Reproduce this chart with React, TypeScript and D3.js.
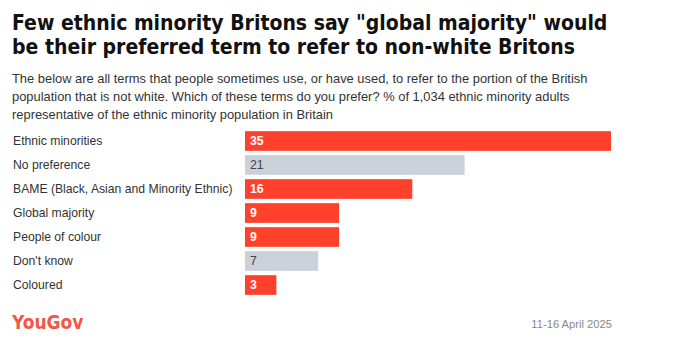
import React, { useEffect, useRef } from 'react';
import * as d3 from 'd3';

const categories = [
  'Ethnic minorities',
  'No preference',
  'BAME (Black, Asian and Minority Ethnic)',
  'Global majority',
  'People of colour',
  "Don't know",
  'Coloured',
];
const values = [35, 21, 16, 9, 9, 7, 3];
const neutral = [false, true, false, false, false, true, false];

const titleLines = [
  'Few ethnic minority Britons say "global majority" would',
  'be their preferred term to refer to non-white Britons',
];
const subtitleLines = [
  'The below are all terms that people sometimes use, or have used, to refer to the portion of the British',
  'population that is not white. Which of these terms do you prefer? % of 1,034 ethnic minority adults',
  'representative of the ethnic minority population in Britain',
];

const RED = '#ff412c';
const GREY = '#cbd0d9';
const FONT = '"Liberation Sans", Arial, sans-serif';
const NARROW = '"DejaVu Sans Condensed", "DejaVu Sans", sans-serif';

export default function App() {
  const svgRef = useRef<SVGSVGElement>(null);

  useEffect(() => {
    const width = 680;
    const height = 354;
    const svg = d3.select(svgRef.current);
    svg.selectAll('*').remove();
    svg.attr('width', width).attr('height', height);

    svg.append('rect').attr('width', width).attr('height', height).attr('fill', '#fff');

    // title
    svg.append('g')
      .selectAll('text')
      .data(titleLines)
      .enter()
      .append('text')
      .attr('x', 12)
      .attr('y', (d, i) => 30 + i * 24)
      .attr('font-family', NARROW)
      .attr('font-weight', 'bold')
      .attr('font-size', 21)
      .attr('fill', '#111')
      .text(d => d);

    // subtitle
    svg.append('g')
      .selectAll('text')
      .data(subtitleLines)
      .enter()
      .append('text')
      .attr('x', 12)
      .attr('y', (d, i) => 83 + i * 18)
      .attr('font-family', FONT)
      .attr('font-size', 12.9)
      .attr('fill', '#333')
      .text(d => d);

    // scales
    const x = d3.scaleLinear().domain([0, 35]).range([245, 611]);
    const y = d3.scaleBand().domain(categories).range([129, 297]).paddingInner(0.18).paddingOuter(0.09);

    const rows = categories.map((c, i) => ({ c, v: values[i], grey: neutral[i] }));

    const g = svg.append('g');

    g.selectAll('.label')
      .data(rows)
      .enter()
      .append('text')
      .attr('x', 13)
      .attr('y', d => y(d.c)! + y.bandwidth() / 2)
      .attr('dy', '0.35em')
      .attr('font-family', FONT)
      .attr('font-size', 12.2)
      .attr('fill', '#333')
      .text(d => d.c);

    g.selectAll('.bar')
      .data(rows)
      .enter()
      .append('rect')
      .attr('x', x(0))
      .attr('y', d => y(d.c)!)
      .attr('width', d => x(d.v) - x(0))
      .attr('height', y.bandwidth())
      .attr('fill', d => (d.grey ? GREY : RED));

    g.selectAll('.val')
      .data(rows)
      .enter()
      .append('text')
      .attr('x', x(0) + 5)
      .attr('y', d => y(d.c)! + y.bandwidth() / 2)
      .attr('dy', '0.35em')
      .attr('font-family', FONT)
      .attr('font-size', 12.3)
      .attr('font-weight', d => (d.grey ? 'normal' : 'bold'))
      .attr('fill', d => (d.grey ? '#444' : '#fff'))
      .text(d => d.v);

    // footer
    svg.append('text')
      .attr('x', 12)
      .attr('y', 329)
      .attr('font-family', NARROW)
      .attr('font-weight', 'bold')
      .attr('font-size', 19)
      .attr('fill', '#f0574a')
      .text('YouGov');

    svg.append('text')
      .attr('x', 612)
      .attr('y', 328)
      .attr('text-anchor', 'end')
      .attr('font-family', FONT)
      .attr('font-size', 11.2)
      .attr('fill', '#888')
      .text('11-16 April 2025');
  }, []);

  return (
    <div style={{ margin: -8 }}>
      <svg ref={svgRef} style={{ display: 'block' }}></svg>
    </div>
  );
}
